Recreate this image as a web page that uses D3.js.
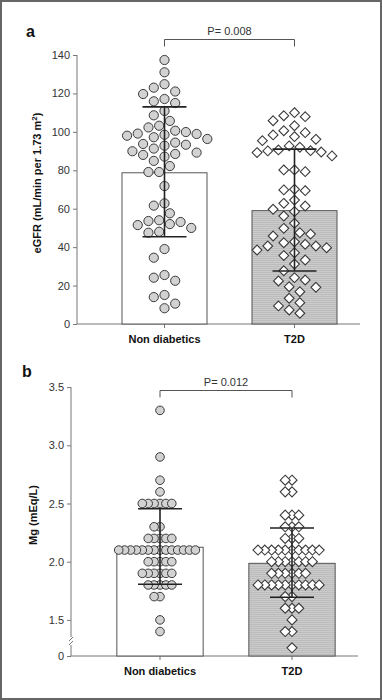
<!DOCTYPE html>
<html>
<head>
<meta charset="utf-8">
<script src="https://cdn.jsdelivr.net/npm/d3@7"></script>
<style>
  html,body{margin:0;padding:0;background:#fff;}
  svg{display:block;}
  text{font-family:"Liberation Sans", Arial, Helvetica, sans-serif;}
</style>
</head>
<body>
<script>
// ---------- DATA ----------
const categories = ["Non diabetics", "T2D"];

// Panel a: eGFR (mL/min per 1.73 m2)
const egfrNonDiabetic = [137.4,131,124.8,123,121,119.7,117.1,115.9,115,110.9,108.6,105.7,103.2,102.3,100.6,99.9,99.1,98.9,98.5,98,97.2,96.3,94.4,93.7,93.3,92.8,91.3,89.9,89.2,88.5,88,87.1,84.9,82.2,79.1,79.1,71.8,62.8,61.6,57.6,54,53.6,53.1,52,51.5,50,48,47.5,39,34.5,25.5,24.1,22.5,15.1,14,10.6,8.2];
const egfrT2D = [110,108.4,107.9,105.8,103.2,100.6,99.6,98.4,97.5,96.1,95.4,92.7,92,90.6,90.2,90.1,89.5,89.2,87.5,80.2,80.2,79.3,70.1,69.8,69.4,64.5,62.8,61.4,59.7,58.5,56.2,52.4,49.8,47.5,46.8,45.8,42.8,42.3,41.5,40.6,40.6,39.7,38.5,37.1,35.6,33.3,31.2,27.7,24.1,22.9,22.4,19.4,19.1,16.8,13.4,11.1,9.4,7.3,5.6];
const egfrMean = [78.7, 59];
const egfrLow  = [45.4, 27.6];
const egfrHigh = [113, 91];
const egfrTicks = [0,20,40,60,80,100,120,140];
const egfrP = "P= 0.008";

// Panel b: Mg (mEq/L)
const mgNonDiabetic = [3.3,2.9,2.7,2.6,
  2.5,2.5,2.5,2.5,2.5,2.5,
  2.3,2.3,
  2.2,2.2,2.2,2.2,2.2,
  2.1,2.1,2.1,2.1,2.1,2.1,2.1,2.1,2.1,2.1,2.1,2.1,2.1,2.1,
  2.0,2.0,2.0,2.0,2.0,
  1.9,1.9,1.9,1.9,1.9,1.9,
  1.8,1.8,1.8,1.8,1.8,
  1.7,1.7,
  1.5,1.4];
const mgT2D = [2.7,2.7,2.6,2.6,
  2.4,2.4,2.4,
  2.3,2.3,2.3,
  2.2,2.2,2.2,
  2.1,2.1,2.1,2.1,2.1,2.1,2.1,2.1,2.1,2.1,
  2.0,2.0,2.0,2.0,2.0,2.0,2.0,
  1.9,1.9,1.9,1.9,1.9,1.9,
  1.8,1.8,1.8,1.8,1.8,1.8,1.8,1.8,1.8,1.8,
  1.7,1.7,
  1.6,1.6,1.6,
  1.5,
  1.4,1.4,
  1.26];
const mgMean = [2.124, 1.986];
const mgLow  = [1.806, 1.694];
const mgHigh = [2.455, 2.29];
const mgTicks = [0,1.5,2.0,2.5,3.0,3.5];
const mgP = "P= 0.012";

// ---------- DRAWING ----------
const W = 382, H = 700;
const svg = d3.select("body").append("svg").attr("width", W).attr("height", H);

const defs = svg.append("defs");
const pat = defs.append("pattern").attr("id","hatch").attr("patternUnits","userSpaceOnUse")
  .attr("width", 4).attr("height", 2);
pat.append("rect").attr("width",4).attr("height",2).attr("fill","#cbcbcb");
pat.append("rect").attr("width",4).attr("height",1).attr("fill","#bcbcbc");

svg.append("rect").attr("x",1).attr("y",1).attr("width",W-2).attr("height",H-2)
  .attr("fill","none").attr("stroke","#666").attr("stroke-width",2);

const AXC = "#777", TXT = "#333";

function swarm(vals, y, cx, diam, step) {
  const pts = vals.map(v => ({v, y: y(v)})).sort((a,b) => a.y - b.y);
  const placed = [];
  for (const p of pts) {
    for (let k = 0; k < 400; k++) {
      const off = k === 0 ? 0 : (k % 2 ? -Math.ceil(k/2) : Math.ceil(k/2)) * step;
      if (placed.every(q => (q.dx - off)**2 + (q.y - p.y)**2 >= diam*diam - 1e-6)) { p.dx = off; break; }
    }
    placed.push(p);
  }
  return placed.map(p => ({x: cx + p.dx, y: p.y, v: p.v}));
}

function panel(opt) {
  const g = svg.append("g");
  const x = d3.scaleBand().domain(categories).range(opt.xRange).paddingInner(0.346).paddingOuter(0.173);
  const y = opt.y;
  const baseY = y(0);

  // y axis
  const yAx = g.append("g").attr("transform", `translate(${opt.axisX},0)`)
    .call(d3.axisLeft(y).tickValues(opt.ticks).tickSize(4).tickPadding(3).tickFormat(opt.fmt));
  yAx.select(".domain").remove();
  yAx.selectAll(".tick line").attr("stroke", AXC);
  yAx.selectAll(".tick text").attr("fill", TXT).style("font-size","11px");
  // axis line(s)
  if (opt.breakAxis) {
    const top = y(opt.ticks[opt.ticks.length-1]);
    g.append("line").attr("x1",opt.axisX).attr("x2",opt.axisX).attr("y1",top).attr("y2",baseY-19).attr("stroke",AXC);
    g.append("line").attr("x1",opt.axisX).attr("x2",opt.axisX).attr("y1",baseY-11).attr("y2",baseY).attr("stroke",AXC);
    [-18,-14].forEach(d => g.append("line").attr("x1",opt.axisX-2).attr("x2",opt.axisX+2)
      .attr("y1",baseY+d+3).attr("y2",baseY+d-1).attr("stroke",AXC));
  } else {
    g.append("line").attr("x1",opt.axisX).attr("x2",opt.axisX)
      .attr("y1",y(opt.ticks[opt.ticks.length-1])).attr("y2",baseY).attr("stroke",AXC);
  }

  // x axis
  g.append("line").attr("x1",opt.axisX).attr("x2",opt.xEnd).attr("y1",baseY).attr("y2",baseY).attr("stroke",AXC);
  const xAx = g.append("g").attr("transform", `translate(0,${baseY})`)
    .call(d3.axisBottom(x).tickSize(4).tickSizeOuter(0).tickPadding(7));
  xAx.select(".domain").remove();
  xAx.selectAll(".tick line").attr("stroke", AXC);
  xAx.selectAll(".tick text").attr("fill","#111").style("font-size","11px").style("font-weight","bold");

  // bars
  g.selectAll(".bar").data(categories).join("rect")
    .attr("x", d => x(d)).attr("width", x.bandwidth())
    .attr("y", (d,i) => y(opt.mean[i])).attr("height", (d,i) => baseY - y(opt.mean[i]))
    .attr("fill", (d,i) => i === 0 ? "#fff" : "url(#hatch)")
    .attr("stroke", "#555").attr("stroke-width", 1);

  // points
  const cx0 = x(categories[0]) + x.bandwidth()/2;
  const cx1 = x(categories[1]) + x.bandwidth()/2;
  const p0 = swarm(opt.s0, y, cx0, opt.d0, opt.step0);
  const p1 = swarm(opt.s1, y, cx1, opt.d1, opt.step1);
  g.selectAll(".c").data(p0).join("circle")
    .attr("cx", d => d.x).attr("cy", d => d.y).attr("r", opt.r)
    .attr("fill","#d2d2d2").attr("stroke","#3a3a3a").attr("stroke-width",1);
  const h = opt.dh;
  g.selectAll(".dm").data(p1).join("path")
    .attr("d", d => `M${d.x},${d.y-h}L${d.x+h},${d.y}L${d.x},${d.y+h}L${d.x-h},${d.y}Z`)
    .attr("fill","#fff").attr("stroke","#3a3a3a").attr("stroke-width",1.1);

  // error bars
  categories.forEach((c,i) => {
    const cx = x(c) + x.bandwidth()/2;
    const eg = g.append("g").attr("stroke","#222").attr("stroke-width",1.6);
    eg.append("line").attr("x1",cx).attr("x2",cx).attr("y1",y(opt.high[i])).attr("y2",y(opt.low[i]));
    [opt.high[i], opt.low[i]].forEach(v =>
      eg.append("line").attr("x1",cx-22).attr("x2",cx+22).attr("y1",y(v)).attr("y2",y(v)));
  });

  // significance bracket
  const by = opt.bracketY;
  g.append("path").attr("d", `M${cx0},${by+7}V${by}H${cx1}V${by+7}`)
    .attr("fill","none").attr("stroke","#555").attr("stroke-width",1);
  g.append("text").attr("x",(cx0+cx1)/2).attr("y",by-5).attr("text-anchor","middle")
    .attr("fill",TXT).style("font-size","11px").text(opt.pText);

  // panel letter
  g.append("text").attr("x",opt.letterX).attr("y",opt.letterY).attr("fill","#111")
    .style("font-size","16px").style("font-weight","bold").text(opt.letter);

  // y label
  const yl = g.append("text").attr("transform",`translate(${opt.ylX},${opt.ylY}) rotate(-90)`)
    .attr("text-anchor","middle").attr("fill","#111").style("font-size","11px").style("font-weight","bold");
  opt.ylabel(yl);
}

// panel a
const yA = d3.scaleLinear().domain([0,140]).range([324,55]);
panel({
  y: yA, axisX: 77, xEnd: 360, xRange: [99.5, 359.5], ticks: egfrTicks, fmt: d3.format("d"),
  mean: egfrMean, low: egfrLow, high: egfrHigh, s0: egfrNonDiabetic, s1: egfrT2D,
  r: 4.6, dh: 4.9, d0: 10.4, step0: 5.35, d1: 10.4, step1: 5.35,
  bracketY: 39.5, pText: egfrP, letter: "a", letterX: 26, letterY: 37,
  ylX: 41, ylY: 183,
  ylabel: t => { t.append("tspan").text("eGFR (mL/min per 1.73 m");
                 t.append("tspan").attr("dy",-4).style("font-size","8px").text("2");
                 t.append("tspan").attr("dy",4).text(")"); }
});

// panel b (axis broken between 0 and 1.5)
const yB = d3.scaleLinear().domain([0,1.25,3.5]).range([656,649,387.1]);
panel({
  y: yB, axisX: 71, xEnd: 358, xRange: [94, 358], ticks: mgTicks,
  fmt: d => d === 0 ? "0" : d3.format(".1f")(d), breakAxis: true,
  mean: mgMean, low: mgLow, high: mgHigh, s0: mgNonDiabetic, s1: mgT2D,
  r: 4.3, dh: 5, d0: 5.9, step0: 5.9, d1: 6.8, step1: 6.8,
  bracketY: 390.5, pText: mgP, letter: "b", letterX: 22, letterY: 377,
  ylX: 37, ylY: 515,
  ylabel: t => t.text("Mg (mEq/L)")
});
</script>
</body>
</html>
